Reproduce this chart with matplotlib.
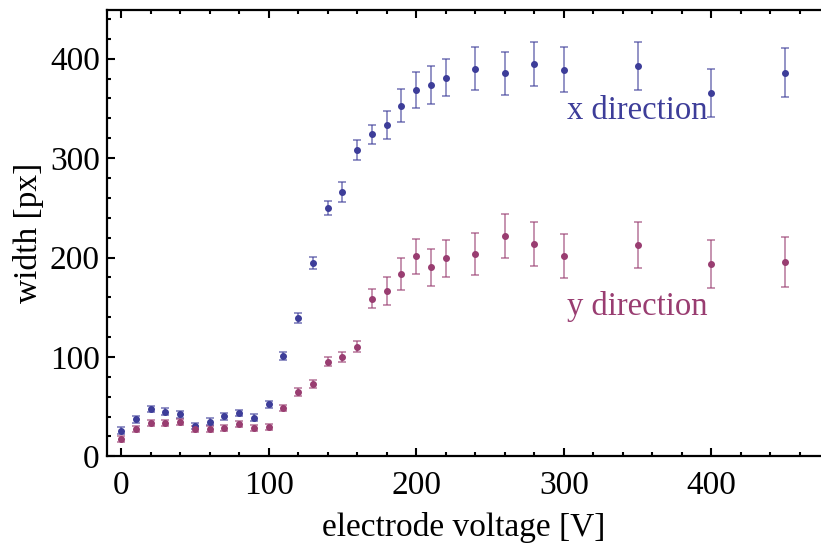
import matplotlib
matplotlib.use("Agg")
import matplotlib.pyplot as plt
from matplotlib.ticker import MultipleLocator

voltage = [0, 10, 20, 30, 40, 50, 60, 70, 80, 90, 100, 110, 120, 130, 140, 150,
           160, 170, 180, 190, 200, 210, 220, 240, 260, 280, 300, 350, 400, 450]
x_width = [25.8, 37.2, 47.6, 44.9, 42.2, 30.5, 34.8, 40.2, 43.6, 38.8, 52.3, 100.6,
           138.8, 194.8, 249.8, 266.2, 308.5, 324.0, 333.0, 352.7, 368.5, 373.2,
           380.9, 390.0, 385.3, 394.4, 389.0, 392.7, 365.8, 385.9]
x_err = [3.3, 3.3, 3.3, 3.3, 3.3, 3.3, 3.3, 3.3, 3.3, 3.3, 3.5, 4.0,
         5.0, 6.0, 7.5, 10.0, 10.0, 9.5, 14.0, 16.5, 17.8, 19.0,
         18.7, 21.5, 21.7, 22.2, 22.3, 23.8, 24.3, 24.8]
y_width = [17.4, 27.2, 33.2, 33.2, 34.8, 27.5, 27.2, 28.8, 32.2, 28.5, 29.5, 48.6,
           64.6, 72.4, 95.2, 99.9, 110.3, 158.5, 166.3, 183.4, 201.2, 190.1,
           199.2, 203.2, 221.6, 213.6, 201.5, 212.6, 193.8, 195.2]
y_err = [3.0, 3.0, 3.0, 3.0, 3.0, 3.0, 3.0, 3.0, 3.0, 3.0, 3.0, 3.5,
         4.0, 4.0, 4.5, 5.0, 5.5, 9.4, 13.8, 16.5, 17.7, 18.8,
         18.8, 21.0, 21.7, 22.2, 22.5, 23.5, 24.0, 25.0]

blue = "#3d3d99"
mag = "#993d71"

plt.rcParams['font.family'] = ['Liberation Serif', 'DejaVu Serif']

fig = plt.figure(figsize=(8.21, 5.45), dpi=100)
W, H = 821, 545
left_px, right_px, top_px, bot_px = 106.7, 835, 10, 456.3
ax = fig.add_axes([left_px / W, 1 - bot_px / H, (right_px - left_px) / W, (bot_px - top_px) / H])

for vals, errs, col in [(x_width, x_err, blue), (y_width, y_err, mag)]:
    ax.errorbar(voltage, vals, yerr=errs, fmt='none', ecolor=col, elinewidth=1.2,
                capsize=3.2, capthick=1.2, alpha=0.65, zorder=2)
    ax.plot(voltage, vals, 'o', color=col, markersize=4.0, zorder=3)

ax.set_xlim(-9.7, (right_px - 121) / 1.476)
ax.set_ylim(0, 449)

ax.xaxis.set_major_locator(MultipleLocator(100))
ax.xaxis.set_minor_locator(MultipleLocator(20))
ax.yaxis.set_major_locator(MultipleLocator(100))
ax.yaxis.set_minor_locator(MultipleLocator(20))
ax.tick_params(which='both', direction='in', top=True, right=False, labelsize=24, width=1.5)
ax.tick_params(which='major', length=5.5)
ax.tick_params(which='minor', length=3)
ax.tick_params(axis='x', which='major', pad=10)
ax.tick_params(axis='y', which='major', pad=5)
for s in ax.spines.values():
    s.set_linewidth(1.6)

ax.set_xlabel('electrode voltage [V]', fontsize=24)
ax.xaxis.set_label_coords((464 - left_px) / (right_px - left_px), -(543 - bot_px) / (bot_px - top_px), transform=ax.transAxes)
ax.xaxis.label.set_va('bottom')
ax.set_ylabel('width [px]', fontsize=24, labelpad=4)

ax.text(350, 348, 'x direction', color=blue, fontsize=23.5, ha='center', va='center')
ax.text(350, 151, 'y direction', color=mag, fontsize=23.5, ha='center', va='center')

fig.savefig('out.png', dpi=100)
